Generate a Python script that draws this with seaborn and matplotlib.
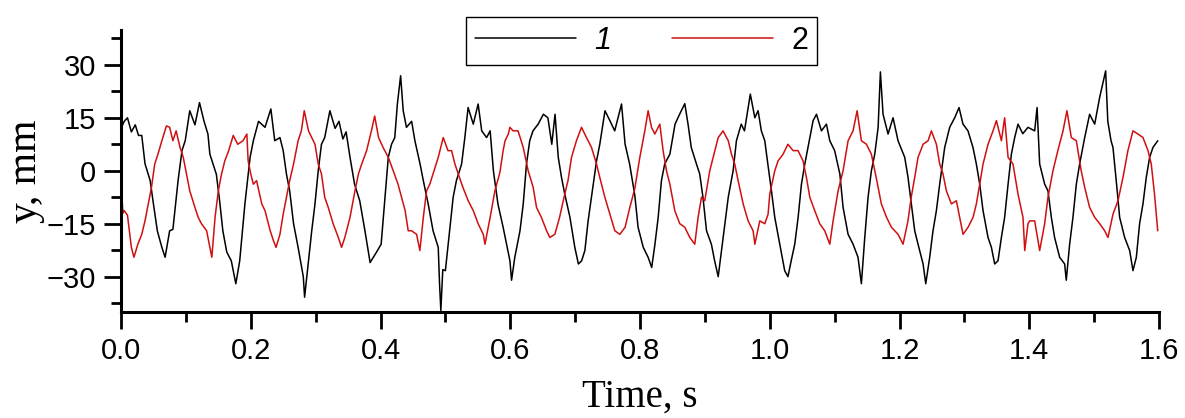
import numpy as np
import pandas as pd
import matplotlib
matplotlib.use("Agg")
import matplotlib.pyplot as plt
import seaborn as sns

# series 1 (black): time in s, displacement in mm
t1 = [0.000, 0.005, 0.010, 0.016, 0.022, 0.027, 0.032, 0.037, 0.045, 0.050,
      0.056, 0.063, 0.068, 0.075, 0.080, 0.088, 0.094, 0.099, 0.106, 0.114,
      0.121, 0.128, 0.134, 0.137, 0.147, 0.152, 0.157, 0.163, 0.170, 0.177,
      0.183, 0.191, 0.199, 0.204, 0.212, 0.222, 0.231, 0.237, 0.245, 0.250,
      0.255, 0.260, 0.266, 0.273, 0.281, 0.283, 0.289, 0.294, 0.299, 0.304,
      0.309, 0.314, 0.322, 0.330, 0.336, 0.342, 0.347, 0.353, 0.360, 0.368,
      0.376, 0.384, 0.394, 0.401, 0.407, 0.412, 0.417, 0.422, 0.426, 0.431,
      0.435, 0.440, 0.448, 0.453, 0.461, 0.466, 0.4735, 0.481, 0.489, 0.491,
      0.493, 0.496, 0.500, 0.507, 0.512, 0.517, 0.525, 0.530, 0.535, 0.543,
      0.5505, 0.556, 0.5635, 0.569, 0.574, 0.581, 0.589, 0.5995, 0.602, 0.607,
      0.615, 0.620, 0.625, 0.630, 0.635, 0.643, 0.651, 0.658, 0.664, 0.669,
      0.674, 0.679, 0.684, 0.692, 0.6995, 0.705, 0.710, 0.715, 0.720, 0.728,
      0.733, 0.738, 0.746, 0.7535, 0.761, 0.7715, 0.777, 0.784, 0.792, 0.797,
      0.805, 0.8125, 0.818, 0.823, 0.828, 0.833, 0.838, 0.846, 0.854, 0.861,
      0.869, 0.874, 0.879, 0.887, 0.892, 0.897, 0.9025, 0.910, 0.915, 0.9205,
      0.9256, 0.931, 0.936, 0.9435, 0.9486, 0.956, 0.961, 0.970, 0.977, 0.982,
      0.987, 0.9923, 0.997, 1.0026, 1.0077, 1.0154, 1.023, 1.028, 1.033, 1.0385,
      1.0437, 1.0488, 1.054, 1.0617, 1.0668, 1.072, 1.0796, 1.0873, 1.0925, 1.100,
      1.108, 1.113, 1.1207, 1.1284, 1.136, 1.1412, 1.1464, 1.1515, 1.1566, 1.1618,
      1.167, 1.1705, 1.1746, 1.1823, 1.190, 1.1977, 1.208, 1.2131, 1.2183, 1.2234,
      1.2285, 1.2363, 1.2404, 1.2465, 1.2516, 1.2568, 1.2619, 1.2696, 1.2773, 1.285,
      1.2917, 1.2978, 1.3055, 1.3132, 1.3184, 1.3236, 1.3287, 1.3364, 1.3416, 1.3467,
      1.3518, 1.357, 1.362, 1.3673, 1.3724, 1.3775, 1.3826, 1.390, 1.398, 1.4083,
      1.412, 1.416, 1.4237, 1.4288, 1.434, 1.439, 1.4468, 1.4545, 1.457, 1.4622,
      1.4673, 1.4725, 1.4776, 1.4854, 1.493, 1.5008, 1.5085, 1.5177, 1.521, 1.526,
      1.529, 1.534, 1.5393, 1.547, 1.5547, 1.5598, 1.565, 1.570, 1.5752, 1.5803,
      1.5855, 1.5906, 1.598]
y1 = [12, 14, 15, 11, 13, 10, 10, 2, -2.8, -9.4,
      -17, -21.7, -24.5, -17, -16.6, -2.8, 5.7, 8.5, 17, 13,
      19.3, 14, 10.4, 4.7, -1, -8.5, -17, -23, -25.5, -32,
      -25.5, -9.4, 3.8, 8.5, 14, 12.3, 17.5, 8.5, 9.4, 5.7,
      -0.9, -5.7, -15, -21.7, -30, -35.8, -25.5, -17, -9.4, 0,
      7.5, 9.4, 17, 12, 14, 9, 11, 3.8, -3.8, -8.5,
      -17, -26, -23, -20.8, -7.5, 3.8, 7.5, 9.4, 18.9, 26.9,
      17, 12.3, 14, 8.5, 1.9, -2.8, -9.4, -17, -21.7, -32,
      -39.6, -28, -28.3, -16, -7.5, -2.8, 1.9, 9.4, 17.9, 13.2,
      18.9, 11.3, 9.4, 11.3, 0, -9.4, -16, -25.5, -31, -24.5,
      -17, -9.4, 1.9, 8.5, 11.3, 13.2, 16, 15, 7.5, 16,
      3.8, -1.9, -6.6, -13.2, -21.7, -26.4, -25.5, -22.6, -14.2, -3.8,
      2.8, 7.5, 17, 14.2, 11.3, 18.9, 7.5, 1.9, -7, -16,
      -21.7, -24.5, -27.4, -20.8, -13.2, -2.8, 1.9, 4.7, 13.2, 16,
      19, 13.2, 6.6, 1.9, -0.9, -7.5, -17, -20.8, -25.5, -30,
      -22.6, -15, -7.5, 0, 8.5, 13.2, 11.3, 21.7, 15, 17,
      11.3, 8.5, 1.9, -5.7, -13.2, -20.8, -28.3, -30, -25.5, -20.8,
      -13.2, -3.8, 1.9, 9.4, 14.2, 16, 11.3, 13.2, 8.5, 5.7,
      -0.9, -10.4, -18, -20.8, -24.5, -32, -18.9, -7.5, 0, 4.7,
      12.3, 28, 16, 10.4, 15, 8.5, 3.8, -1.9, -9.4, -17,
      -20.8, -26.4, -32, -24.5, -17, -11.3, -3.8, 6.6, 12.3, 15,
      17.9, 13.2, 11.3, 6.6, 1.9, -3.8, -11.3, -18.9, -21.7, -26.4,
      -25.5, -18.9, -13.2, -3.8, 4.7, 9.4, 13.2, 10.5, 12.3, 11.3,
      17.9, 1.9, -3.8, -5.7, -13.2, -18.9, -24.5, -26.4, -31, -20.8,
      -13.2, -3.8, 1.9, 9.4, 16, 13.2, 20.8, 28.3, 14, 8.5,
      6.6, -2.8, -13.2, -18.9, -22.6, -28.3, -24.5, -15, -9.4, -1.9,
      3.8, 6.6, 8.5]

# series 2 (red)
t2 = [0.000, 0.003, 0.005, 0.010, 0.016, 0.020, 0.026, 0.032, 0.037, 0.042,
      0.047, 0.052, 0.057, 0.063, 0.070, 0.075, 0.080, 0.085, 0.091, 0.096,
      0.101, 0.106, 0.114, 0.119, 0.124, 0.132, 0.137, 0.140, 0.145, 0.150,
      0.155, 0.160, 0.166, 0.173, 0.180, 0.188, 0.194, 0.196, 0.200, 0.204,
      0.209, 0.217, 0.222, 0.230, 0.235, 0.239, 0.245, 0.250, 0.255, 0.260,
      0.266, 0.273, 0.278, 0.2825, 0.289, 0.294, 0.299, 0.304, 0.309, 0.314,
      0.3195, 0.327, 0.335, 0.340, 0.345, 0.353, 0.3606, 0.366, 0.371, 0.3786,
      0.386, 0.391, 0.397, 0.404, 0.412, 0.4196, 0.427, 0.4325, 0.438, 0.4427,
      0.448, 0.4556, 0.4607, 0.466, 0.471, 0.476, 0.481, 0.489, 0.4967, 0.504,
      0.5095, 0.5147, 0.5198, 0.527, 0.5352, 0.543, 0.5505, 0.5584, 0.561, 0.569,
      0.5763, 0.584, 0.589, 0.592, 0.597, 0.5994, 0.6045, 0.612, 0.620, 0.6276,
      0.6353, 0.6405, 0.648, 0.656, 0.661, 0.6687, 0.676, 0.684, 0.689, 0.6944,
      0.702, 0.7098, 0.7175, 0.7252, 0.733, 0.738, 0.7458, 0.7535, 0.7612, 0.7689,
      0.777, 0.7843, 0.792, 0.7997, 0.8074, 0.8125, 0.8177, 0.8228, 0.8305, 0.8356,
      0.8408, 0.846, 0.8536, 0.8613, 0.869, 0.8767, 0.8844, 0.8895, 0.8947, 0.8998,
      0.9075, 0.9127, 0.9205, 0.928, 0.936, 0.941, 0.946, 0.9512, 0.959, 0.9666,
      0.9743, 0.977, 0.9846, 0.9923, 0.9974, 1.000, 1.0077, 1.0128, 1.0205, 1.028,
      1.0359, 1.0436, 1.0513, 1.0565, 1.0617, 1.0693, 1.077, 1.0847, 1.0925, 1.0976,
      1.1053, 1.113, 1.1207, 1.1284, 1.1346, 1.1412, 1.149, 1.1566, 1.164, 1.172,
      1.180, 1.1875, 1.1977, 1.2054, 1.213, 1.218, 1.2234, 1.2285, 1.2363, 1.244,
      1.2491, 1.2568, 1.2619, 1.267, 1.2722, 1.280, 1.2876, 1.2927, 1.2979, 1.3056,
      1.3133, 1.3184, 1.3236, 1.3287, 1.3364, 1.3441, 1.3493, 1.357, 1.362, 1.3673,
      1.3749, 1.3826, 1.3903, 1.393, 1.398, 1.4006, 1.4083, 1.416, 1.4237, 1.4288,
      1.4365, 1.444, 1.452, 1.458, 1.4648, 1.4725, 1.480, 1.4854, 1.493, 1.5008,
      1.5085, 1.5162, 1.5213, 1.529, 1.5367, 1.5444, 1.552, 1.5598, 1.5675, 1.5752,
      1.583, 1.588, 1.593, 1.598]
y2 = [-3, -12, -11.3, -12.6, -21.7, -24.5, -20.8, -18, -14.2, -9.4,
      -4.7, 1.9, 4.7, 8.5, 12.7, 12.3, 8.5, 11.3, 6.6, 3.8,
      -0.9, -5.7, -10.4, -13.2, -15, -17, -21.7, -24.5, -13.2, -5.7,
      -0.9, 2.8, 5.7, 10, 7.5, 8.5, 10.4, 2.8, -0.9, -3.8,
      -2.8, -9.4, -11.3, -17, -19.8, -21.7, -18, -12.3, -7.5, -2.8,
      1.9, 8.5, 11.3, 17, 11.3, 9.4, 7.5, 1.9, -0.9, -7.5,
      -10.4, -15, -18.9, -21.7, -18.9, -13.2, -5.7, -0.9, 1.9, 5.7,
      11.3, 15.5, 9.4, 6.6, 3.8, 0, -3.8, -7.5, -11.3, -17,
      -17, -18, -22.6, -13.2, -5.7, -3.8, -0.9, 3.8, 9.4, 5.7,
      5.7, 1.9, -0.9, -4.7, -8.5, -11.3, -15, -18, -20.8, -13.2,
      -5.7, -0.5, 5.7, 8.5, 10.4, 12.3, 11.3, 11.3, 6.6, 0,
      -4.7, -10.4, -13.2, -17, -18.9, -18, -13.2, -6.6, -2.8, 3.8,
      8.5, 12.3, 9.4, 6.6, 1.9, -1.9, -7.5, -12.3, -17, -18,
      -16, -10.4, -5, 3.8, 11.3, 17, 12.3, 10.4, 13.2, 5.7,
      0, -3.8, -11.3, -15, -16, -18.9, -20.8, -13.2, -7.5, -8.5,
      0, 3.8, 9.4, 11.3, 8.5, 4.7, 1.9, -2.8, -9.4, -14.2,
      -17, -20.8, -14.2, -15, -12.3, -6.6, 0, 2.8, 4.7, 7.5,
      5.7, 5.7, 2.8, -1.9, -7.5, -11.3, -15, -17, -20.8, -14.2,
      -5.7, 0, 8.5, 11.3, 17, 8.5, 7.5, 4.7, -1.9, -9.4,
      -13.2, -16, -18, -20.8, -14.2, -7.5, -1.9, 3.8, 7.5, 8.5,
      11.3, 7.5, 1.9, -0.9, -5.7, -9.4, -8.5, -13.2, -18, -16,
      -13.2, -9.4, -3.8, 1.9, 7.5, 11.3, 14.2, 8.5, 15, 3.8,
      1.9, -6.6, -13.2, -22.6, -15, -14.2, -14.2, -22.6, -15, -7.5,
      0, 5.7, 11.3, 17, 9.4, 8.5, 0, -4.7, -10.4, -13.2,
      -15, -17, -18.9, -12.3, -8.5, -1.9, 5.7, 11.3, 10.4, 9.4,
      5.7, 1.9, -6.6, -17]

x_ticks = [0.0, 0.2, 0.4, 0.6, 0.8, 1.0, 1.2, 1.4, 1.6]
y_ticks = [-30, -15, 0, 15, 30]

df1 = pd.DataFrame({"t": t1, "y": y1})
df2 = pd.DataFrame({"t": t2, "y": y2})

sns.set_style("ticks")
plt.rcParams["font.family"] = ["Liberation Sans", "DejaVu Sans"]
plt.rcParams["text.color"] = "black"
plt.rcParams["axes.labelcolor"] = "black"
plt.rcParams["xtick.color"] = "black"
plt.rcParams["ytick.color"] = "black"

fig = plt.figure(figsize=(11.85, 4.18), dpi=100)
ax = fig.add_axes([0.1021, 0.2536, 0.876, 0.6758])

sns.lineplot(data=df1, x="t", y="y", ax=ax, color="black", lw=1.1,
             estimator=None, sort=False, label="1")
sns.lineplot(data=df2, x="t", y="y", ax=ax, color="#d01010", lw=1.1,
             estimator=None, sort=False, label="2")

ax.set_xlim(0, 1.6)
ax.set_ylim(-40, 40)
ax.set_xticks(x_ticks)
ax.set_xticklabels(["%.1f" % v for v in x_ticks])
ax.set_xticks(np.arange(0.1, 1.6, 0.2), minor=True)
ax.set_yticks(y_ticks)
ax.set_yticks([-37.5, -22.5, -7.5, 7.5, 22.5, 37.5], minor=True)

for s in ["top", "right"]:
    ax.spines[s].set_visible(False)
for s in ["left", "bottom"]:
    ax.spines[s].set_linewidth(2.2)
    ax.spines[s].set_color("black")

ax.tick_params(which="major", direction="out", length=12, width=2.0,
               labelsize=21, pad=6, colors="black")
ax.tick_params(which="minor", direction="out", length=7, width=2.0,
               colors="black")

ax.set_xlabel("Time, s", family="Liberation Serif", fontsize=28,
              labelpad=10, color="black")
ax.set_ylabel("y, mm", family="Liberation Serif", fontsize=30,
              labelpad=1, color="black")

leg = ax.legend(loc="center", bbox_to_anchor=(0.5414, 0.902),
                bbox_transform=fig.transFigure, ncol=2, fontsize=22,
                frameon=True, fancybox=False, handlelength=3.3,
                handletextpad=0.6, columnspacing=2.0, borderpad=0.3,
                borderaxespad=0)
leg.get_frame().set_edgecolor("black")
leg.get_frame().set_linewidth(1.0)
leg.get_frame().set_alpha(1)
for txt in leg.get_texts():
    txt.set_color("black")
leg.get_texts()[0].set_style("italic")

fig.savefig("out.png", dpi=100)
